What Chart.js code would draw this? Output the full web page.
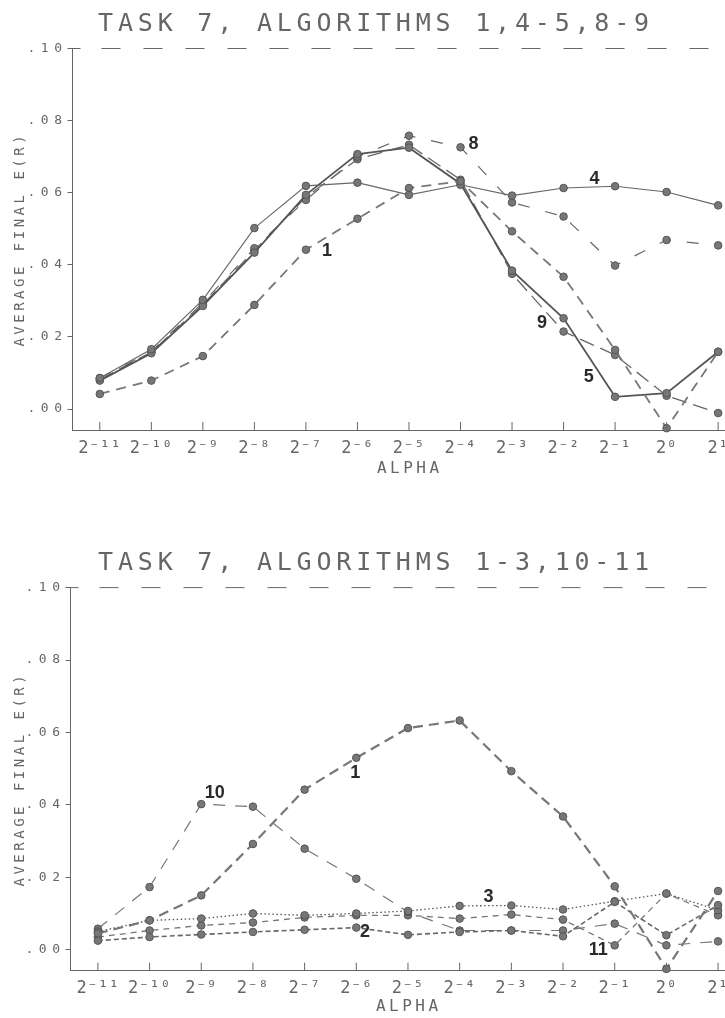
<!DOCTYPE html>
<html>
<head>
<meta charset="utf-8">
<title>Task 7, algorithms</title>
<script src="https://cdn.jsdelivr.net/npm/chart.js@4.4.0/dist/chart.umd.min.js"></script>
<style>
  html, body { margin: 0; padding: 0; background: #fff; overflow: hidden; }
  #page { position: relative; width: 725px; height: 1018px; overflow: hidden; background: #fff; }
  .panel { position: absolute; left: 0; }
</style>
</head>
<body>
<div id="page">
  <div class="panel" style="top:0"><canvas id="chartTop" width="752" height="505"></canvas></div>
  <div class="panel" style="top:505px"><canvas id="chartBottom" width="752" height="513"></canvas></div>
</div>
<script>
// alpha = 2^exp, one point per exponent
const alphaExp = [-11, -10, -9, -8, -7, -6, -5, -4, -3, -2, -1, 0, 1];
const yTickValues = [0, 0.02, 0.04, 0.06, 0.08, 0.10];

// top panel: algorithms 1, 4-5, 8-9
const topAlgo1 = [0.0042, 0.0079, 0.0147, 0.0289, 0.0442, 0.0528, 0.0613, 0.0632, 0.0493, 0.0367, 0.0164, -0.0053, 0.0159];
const topAlgo4 = [0.0086, 0.0166, 0.0303, 0.0502, 0.0619, 0.0628, 0.0594, 0.0622, 0.0592, 0.0613, 0.0618, 0.0602, 0.0565];
const topAlgo5 = [0.0079, 0.0155, 0.0286, 0.0434, 0.0594, 0.0707, 0.0725, 0.0625, 0.0384, 0.0252, 0.0034, 0.0044, 0.0159];
const topAlgo8 = [0.0086, 0.0160, 0.0295, 0.0446, 0.0580, 0.0700, 0.0758, 0.0726, 0.0573, 0.0534, 0.0398, 0.0469, 0.0454];
const topAlgo9 = [0.0082, 0.0158, 0.0290, 0.0440, 0.0588, 0.0693, 0.0733, 0.0636, 0.0375, 0.0215, 0.0150, 0.0037, -0.0011];

// bottom panel: algorithms 1-3, 10-11
const botAlgo1 = [0.0045, 0.0081, 0.0150, 0.0292, 0.0442, 0.0530, 0.0612, 0.0633, 0.0493, 0.0368, 0.0175, -0.0053, 0.0162];
const botAlgo2 = [0.0025, 0.0035, 0.0042, 0.0049, 0.0055, 0.0061, 0.0041, 0.0049, 0.0053, 0.0037, 0.0132, 0.0040, 0.0123];
const botAlgo3 = [0.0050, 0.0081, 0.0086, 0.0100, 0.0095, 0.0100, 0.0107, 0.0121, 0.0122, 0.0111, 0.0134, 0.0155, 0.0109];
const botAlgo10 = [0.0058, 0.0173, 0.0402, 0.0395, 0.0279, 0.0196, 0.0104, 0.0053, 0.0053, 0.0053, 0.0072, 0.0012, 0.0023];
const botAlgo11 = [0.0035, 0.0053, 0.0067, 0.0075, 0.0089, 0.0095, 0.0095, 0.0086, 0.0097, 0.0083, 0.0012, 0.0155, 0.0095];

// curve numbers written next to the lines (in data units)
const topCurveLabels = [
    { text: '1', x: -6.59, y: 0.0439 },
    { text: '8', x: -3.75, y: 0.0736 },
    { text: '4', x: -1.40, y: 0.0639 },
    { text: '9', x: -2.42, y: 0.0240 },
    { text: '5', x: -1.51, y: 0.0088 }
];
const botCurveLabels = [
    { text: '10', x: -8.74, y: 0.0434 },
    { text: '1', x: -6.02, y: 0.0488 },
    { text: '3', x: -3.44, y: 0.0145 },
    { text: '2', x: -5.83, y: 0.0049 },
    { text: '11', x: -1.32, y: -0.0002 }
];

const MONO = '"DejaVu Sans Mono", "Liberation Mono", monospace';
const TEXT_COLOR = '#666';
const SUP = { '-': '⁻', '0': '⁰', '1': '¹', '2': '²', '3': '³', '4': '⁴', '5': '⁵', '6': '⁶', '7': '⁷', '8': '⁸', '9': '⁹' };

function powerLabel(v) {
    return '2' + String(v).split('').map(c => SUP[c] || c).join('');
}

// run a drawing method with its own letter spacing (plotter lettering is widely spaced)
function withSpacing(obj, method, spacing) {
    if (!obj || obj['_spaced_' + method]) return;
    const orig = obj[method];
    obj[method] = function() {
        const ctx = this.ctx;
        const prev = ctx.letterSpacing;
        ctx.letterSpacing = spacing;
        orig.apply(this, arguments);
        ctx.letterSpacing = prev;
    };
    obj['_spaced_' + method] = true;
}

// Plotter look: dashed .10 line, inward x ticks, curve numbers
const plotterPlugin = {
    id: 'plotter',
    beforeDraw(chart) {
        withSpacing(chart.titleBlock, 'draw', '4.8px');
        withSpacing(chart.scales.x, 'drawLabels', '0.5px');
        withSpacing(chart.scales.x, 'drawTitle', '3.5px');
        withSpacing(chart.scales.y, 'drawLabels', '5.5px');
        withSpacing(chart.scales.y, 'drawTitle', '3.5px');
    },
    afterDraw(chart, args, opts) {
        const { ctx, chartArea } = chart;
        const xs = chart.scales.x;
        const ys = chart.scales.y;
        ctx.save();
        ctx.strokeStyle = '#666';
        ctx.lineWidth = 1;

        const yTop = ys.getPixelForValue(0.10);
        ctx.beginPath();
        ctx.moveTo(chartArea.left, yTop);
        ctx.lineTo(chartArea.left + 8, yTop);
        ctx.stroke();
        ctx.setLineDash([19, 23]);
        ctx.beginPath();
        ctx.moveTo(chartArea.left + 29, yTop);
        ctx.lineTo(chartArea.right, yTop);
        ctx.stroke();
        ctx.setLineDash([]);

        alphaExp.forEach(e => {
            const px = xs.getPixelForValue(e);
            ctx.beginPath();
            ctx.moveTo(px, chartArea.bottom);
            ctx.lineTo(px, chartArea.bottom - 8);
            ctx.stroke();
        });

        ctx.letterSpacing = '0px';
        ctx.fillStyle = '#2a2a2a';
        ctx.font = 'bold 18px "Liberation Sans", Arial, sans-serif';
        ctx.textAlign = 'center';
        ctx.textBaseline = 'middle';
        opts.labels.forEach(l => {
            ctx.fillText(l.text, xs.getPixelForValue(l.x), ys.getPixelForValue(l.y));
        });
        ctx.restore();
    }
};

function series(label, values, style) {
    return Object.assign({
        label: label,
        data: values.map((v, i) => ({ x: alphaExp[i], y: v })),
        borderColor: '#6e6e6e',
        borderWidth: 1.3,
        pointRadius: 3.8,
        pointBackgroundColor: '#777',
        pointBorderColor: '#555',
        pointBorderWidth: 1,
        tension: 0,
        fill: false,
        clip: false
    }, style);
}

function makeChart(id, cfg) {
    return new Chart(document.getElementById(id), {
        type: 'line',
        data: { datasets: cfg.datasets },
        options: {
            responsive: false,
            animation: false,
            events: [],
            layout: { padding: 0 },
            plugins: {
                legend: { display: false },
                tooltip: { enabled: false },
                title: {
                    display: true,
                    text: cfg.title,
                    color: TEXT_COLOR,
                    font: { family: MONO, size: 25, weight: 'normal', lineHeight: 1.2 },
                    padding: cfg.titlePad
                },
                plotter: { labels: cfg.labels }
            },
            scales: {
                x: {
                    type: 'linear',
                    min: -11.53,
                    max: cfg.xMax,
                    afterBuildTicks: s => { s.ticks = alphaExp.map(v => ({ value: v })); },
                    afterFit: s => { s.height = cfg.xHeight; },
                    grid: { drawOnChartArea: false, drawTicks: false },
                    border: { color: '#666', width: 1 },
                    ticks: {
                        callback: v => powerLabel(v),
                        color: TEXT_COLOR,
                        font: { family: MONO, size: 17 },
                        padding: 8,
                        maxRotation: 0,
                        autoSkip: false
                    },
                    title: {
                        display: true,
                        text: 'ALPHA',
                        color: TEXT_COLOR,
                        font: { family: MONO, size: 16, lineHeight: 1.2 },
                        padding: { top: 0, bottom: cfg.alphaPad }
                    }
                },
                y: {
                    min: -0.0058,
                    max: 0.10,
                    afterBuildTicks: s => { s.ticks = yTickValues.map(v => ({ value: v })); },
                    afterFit: s => { s.width = cfg.yWidth; },
                    grid: { drawOnChartArea: false, drawTicks: true, tickLength: 5, color: '#666' },
                    border: { color: '#666', width: 1 },
                    ticks: {
                        callback: v => v.toFixed(2).replace(/^0/, ''),
                        color: TEXT_COLOR,
                        font: { family: MONO, size: 13 },
                        padding: 0
                    },
                    title: {
                        display: true,
                        text: 'AVERAGE FINAL E(R)',
                        color: TEXT_COLOR,
                        font: { family: MONO, size: 14, lineHeight: 1.2 },
                        padding: { top: 11.6, bottom: 0 }
                    }
                }
            }
        },
        plugins: [plotterPlugin]
    });
}

document.addEventListener('DOMContentLoaded', function() {
    makeChart('chartTop', {
        title: 'TASK 7, ALGORITHMS 1,4-5,8-9',
        titlePad: { top: 9, bottom: 9.5 },
        xMax: 1.56,
        xHeight: 75,
        yWidth: 72.5,
        alphaPad: 26.4,
        labels: topCurveLabels,
        datasets: [
            series('1', topAlgo1, { borderDash: [10, 7], borderWidth: 1.8, borderColor: '#777' }),
            series('4', topAlgo4, { borderWidth: 1.1, borderColor: '#666' }),
            series('5', topAlgo5, { borderWidth: 1.8, borderColor: '#555' }),
            series('8', topAlgo8, { borderDash: [12, 16], borderWidth: 1.2, borderColor: '#666' }),
            series('9', topAlgo9, { borderDash: [15, 7], borderWidth: 1.3, borderColor: '#666' })
        ]
    });

    makeChart('chartBottom', {
        title: 'TASK 7, ALGORITHMS 1-3,10-11',
        titlePad: { top: 43, bottom: 9.6 },
        xMax: 1.56,
        xHeight: 47.3,
        yWidth: 70.5,
        alphaPad: 1.7,
        labels: botCurveLabels,
        datasets: [
            series('1', botAlgo1, { borderDash: [10, 6], borderWidth: 2.2, borderColor: '#777' }),
            series('2', botAlgo2, { borderDash: [5, 3], borderWidth: 1.6, borderColor: '#666' }),
            series('3', botAlgo3, { borderDash: [1.5, 2.5], borderWidth: 1.3, borderColor: '#555' }),
            series('10', botAlgo10, { borderDash: [12, 10], borderWidth: 1.2, borderColor: '#777' }),
            series('11', botAlgo11, { borderDash: [6, 5], borderWidth: 1.3, borderColor: '#777' })
        ]
    });
});
</script>
</body>
</html>
